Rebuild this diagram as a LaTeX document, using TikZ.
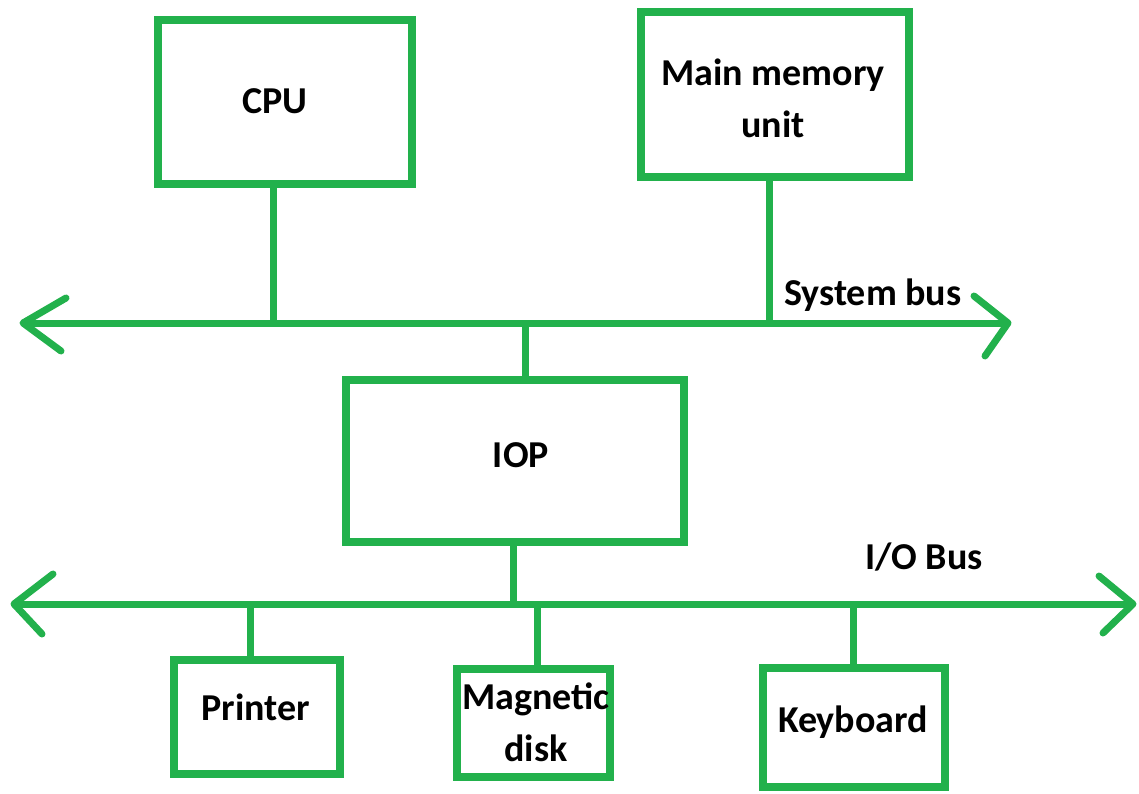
\documentclass[tikz,border=0pt]{standalone}
\usepackage{fontspec}
\setmainfont{Carlito}
\definecolor{pgreen}{HTML}{22B14C}
\begin{document}
\begin{tikzpicture}[x=1pt,y=-1pt,
  box/.style={draw=pgreen,line width=8pt,rectangle,inner sep=0pt},
  txt/.style={text=black,inner sep=0pt,align=center,font=\fontsize{38}{52}\selectfont\bfseries},
  wire/.style={draw=pgreen,line width=7pt},
  head/.style={draw=pgreen,line width=7pt,line cap=round,line join=round}]
\useasboundingbox (0,0) rectangle (1139,794);
% boxes
\node[box,minimum width=254,minimum height=164] (cpu) at (285,102) {};
\node[box,minimum width=268,minimum height=165] (mem) at (775,95) {};
\node[box,minimum width=338,minimum height=162] (iop) at (515,461) {};
\node[box,minimum width=166,minimum height=114] (prn) at (257,717) {};
\node[box,minimum width=153,minimum height=108] (dsk) at (533,723) {};
\node[box,minimum width=182,minimum height=119] (kbd) at (854,727) {};
% texts
\node[txt] (tcpu) at (275,101) {CPU};
\node[txt] (tmem) at (773,98) {Main memory\\unit};
\node[txt] (tiop) at (521,455) {IOP};
\node[txt] (tprn) at (256,707) {Printer};
\node[txt] (tdsk) at (536,722) {Magnetic\\disk};
\node[txt] (tkbd) at (853,722) {Keyboard};
\node[txt,anchor=west] (tsb) at (784,295) {System bus};
\node[txt,anchor=west] (tio) at (865,557) {I/O Bus};
% bus end points
\coordinate (sbL) at (23,323);
\coordinate (sbR) at (1008,323);
\coordinate (ioL) at (14,604);
\coordinate (ioR) at (1133,604);
% buses
\draw[wire] (sbL) -- (sbR);
\draw[wire] (ioL) -- (ioR);
% arrow heads
\draw[head] (66,298) -- (sbL) -- (61,351);
\draw[head] (974,296) -- (sbR) -- (985,356);
\draw[head] (53,574) -- (ioL) -- (42,634);
\draw[head] (1099,576) -- (ioR) -- (1103,633);
% stems
\draw[wire] ([xshift=-12pt]cpu.south) -- ([xshift=-12pt]cpu.south |- sbL);
\draw[wire] ([xshift=-6pt]mem.south) -- ([xshift=-6pt]mem.south |- sbL);
\draw[wire] ([xshift=10pt]iop.north) -- ([xshift=10pt]iop.north |- sbL);
\draw[wire] ([xshift=-2pt]iop.south) -- ([xshift=-2pt]iop.south |- ioL);
\draw[wire] ([xshift=-7pt]prn.north) -- ([xshift=-7pt]prn.north |- ioL);
\draw[wire] ([xshift=4pt]dsk.north) -- ([xshift=4pt]dsk.north |- ioL);
\draw[wire] ([xshift=-1pt]kbd.north) -- ([xshift=-1pt]kbd.north |- ioL);
\end{tikzpicture}
\end{document}
